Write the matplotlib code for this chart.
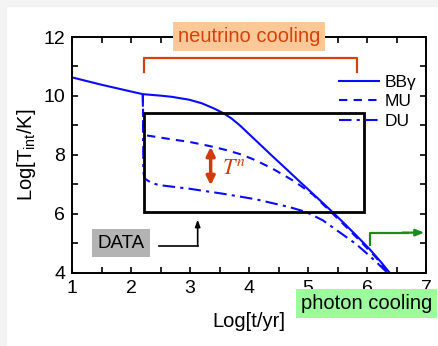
import matplotlib
matplotlib.use("Agg")
import matplotlib.pyplot as plt
from matplotlib.patches import Rectangle
import numpy as np

plt.rcParams['font.family'] = ['Liberation Sans', 'DejaVu Sans']
plt.rcParams['mathtext.fontset'] = 'custom'
plt.rcParams['mathtext.rm'] = 'Liberation Sans'
plt.rcParams['mathtext.it'] = 'Liberation Sans:italic'

# Data
bb_x = [1.0, 1.5, 2.0, 2.2, 2.5, 2.69, 2.99, 3.2, 3.4, 3.56, 3.7, 3.84, 4.12, 4.40, 4.68,
        4.85, 5.05, 5.25, 5.42, 5.62, 5.81, 6.04, 6.22, 6.40]
bb_y = [10.63, 10.38, 10.15, 10.06, 10.01, 9.97, 9.87, 9.75, 9.58, 9.42, 9.24, 9.01, 8.48,
        7.95, 7.43, 7.11, 6.74, 6.37, 6.05, 5.66, 5.28, 4.81, 4.40, 3.96]

mu_x = [2.2, 2.21, 2.23, 2.71, 2.99, 3.33, 3.6, 3.84, 4.06, 4.25, 4.40, 4.6, 4.77, 5.08,
        5.39, 5.65, 5.92, 6.15, 6.37]
mu_y = [10.06, 8.75, 8.67, 8.52, 8.44, 8.30, 8.17, 8.03, 7.86, 7.68, 7.53, 7.30, 7.10, 6.66,
        6.06, 5.55, 5.00, 4.52, 3.97]

du_x = [2.2, 2.21, 2.23, 2.35, 2.49, 2.99, 3.56, 4.12, 4.68, 4.97, 5.25, 5.53, 5.81,
        6.04, 6.20, 6.36]
du_y = [10.06, 7.40, 7.20, 7.04, 6.97, 6.85, 6.68, 6.49, 6.23, 6.06, 5.78, 5.38, 4.98,
        4.58, 4.28, 3.97]

labels = ["BBγ", "MU", "DU"]

fig = plt.figure(figsize=(4.38, 3.46), dpi=100)
# light gray border strips
fig.patches.append(Rectangle((0, 1 - 6/346), 1, 6/346, transform=fig.transFigure,
                             color='#f3f3f3', zorder=-10))
fig.patches.append(Rectangle((0, 0), 6/438, 1, transform=fig.transFigure,
                             color='#f3f3f3', zorder=-10))

ax = fig.add_axes([72/438, 1 - 272.7/346, (426 - 72)/438, (272.7 - 37)/346])
blue = '#0a0aff'
ax.plot(bb_x, bb_y, color=blue, lw=1.5, label=labels[0])
ax.plot(mu_x, mu_y, color=blue, lw=1.5, dashes=(4, 3), label=labels[1])
ax.plot(du_x, du_y, color=blue, lw=1.5, dashes=(6, 2.5, 1.5, 2.5), label=labels[2])

ax.set_xlim(1, 7)
ax.set_ylim(4, 12)
ax.set_xticks([1, 2, 3, 4, 5, 6, 7])
ax.set_xticks(np.arange(1.5, 7, 1.0), minor=True)
ax.set_yticks([4, 6, 8, 10, 12])
ax.set_yticks([5, 7, 9, 11], minor=True)
ax.tick_params(which='both', direction='in', top=True, right=True, length=4.5, width=1.2,
               labelsize=14)
ax.tick_params(which='major', pad=5)
for s in ax.spines.values():
    s.set_linewidth(1.4)

ax.set_xlabel("Log[t/yr]", fontsize=14.5, labelpad=11)
ax.set_ylabel("Log[T$_{\\rm int}$/K]", fontsize=14.5, labelpad=4)

# DATA rectangle
ax.add_patch(Rectangle((2.22, 6.06), 5.95 - 2.22, 9.43 - 6.06, fill=False,
                       edgecolor='black', lw=2, zorder=3))

# neutrino cooling bracket
red = '#d5420c'
ax.plot([2.22, 2.22, 5.83, 5.83], [10.82, 11.3, 11.3, 10.82], color=red, lw=1.6,
        clip_on=False)
ax.text(4.0, 12.03, "neutrino cooling", fontsize=14.5, color=red, ha='center', va='center',
        bbox=dict(boxstyle='square,pad=0.25', facecolor='#fcc898', edgecolor='none'),
        clip_on=False, zorder=5)

# T^n double arrow
ax.annotate("", xy=(3.35, 6.97), xytext=(3.35, 8.27),
            arrowprops=dict(arrowstyle='<|-|>,head_length=0.5,head_width=0.25',
                            color='#d03c08', lw=2.5, shrinkA=0, shrinkB=0))
ax.text(3.75, 7.54, "$T^n$", fontsize=16, color='#d03c08', ha='center', va='center',
        math_fontfamily='stix')

# DATA label and arrow
ax.text(1.83, 5.0, "DATA", fontsize=13.5, ha='center', va='center',
        bbox=dict(boxstyle='square,pad=0.3', facecolor='#b3b3b3', edgecolor='none'))
ax.plot([2.48, 3.13], [4.92, 4.92], color='black', lw=1.2)
ax.annotate("", xy=(3.13, 5.8), xytext=(3.13, 4.92),
            arrowprops=dict(arrowstyle='-|>,head_length=0.4,head_width=0.15',
                            color='black', lw=1.2, shrinkA=0, shrinkB=0))

# photon cooling arrow
green = '#1a8c1a'
ax.plot([6.05, 6.05, 6.7], [4.94, 5.36, 5.36], color=green, lw=1.6)
ax.annotate("", xy=(6.97, 5.36), xytext=(6.6, 5.36),
            arrowprops=dict(arrowstyle='-|>,head_length=0.5,head_width=0.2',
                            color=green, lw=1.6, shrinkA=0, shrinkB=0))
ax.text(5.99, 2.95, "photon cooling", fontsize=14.5, ha='center', va='center',
        bbox=dict(boxstyle='square,pad=0.25', facecolor='#9cfc9c', edgecolor='none'),
        clip_on=False, zorder=10)

leg = ax.legend(loc='upper left', bbox_to_anchor=(0.735, 0.87), frameon=False, fontsize=12.5,
                handlelength=2.3, handletextpad=0.3, labelspacing=0.25, borderaxespad=0)

fig.savefig("out.png", dpi=100)
